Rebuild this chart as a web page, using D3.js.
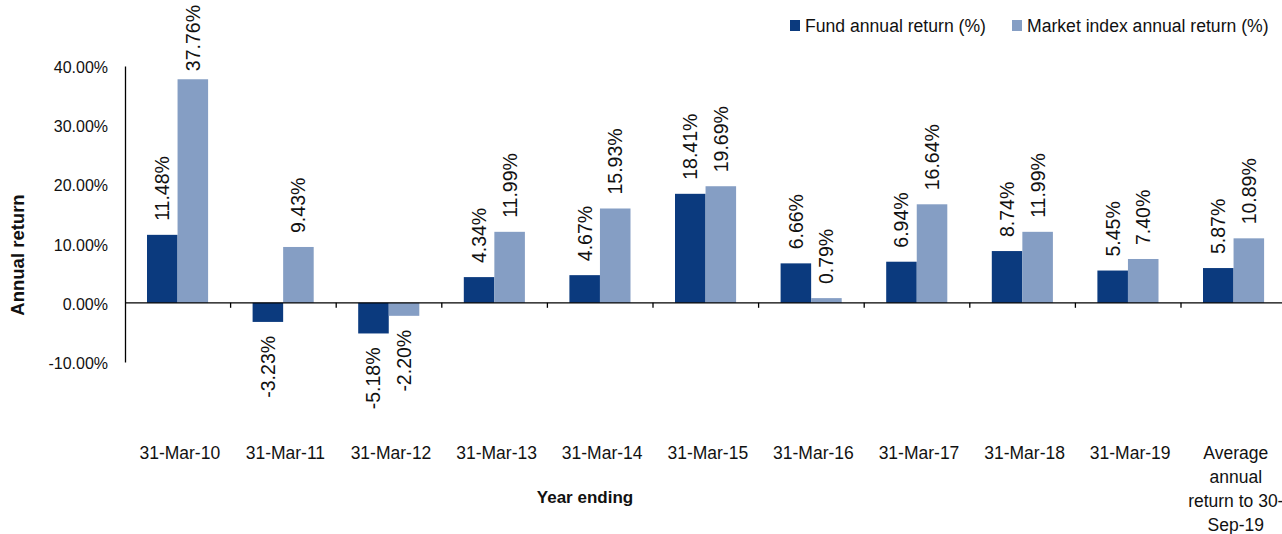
<!DOCTYPE html>
<html>
<head>
<meta charset="utf-8">
<script src="https://cdn.jsdelivr.net/npm/d3@7"></script>
<style>
  body { margin: 0; background: #fff; }
  svg text { fill: #111; }
</style>
</head>
<body>
<div id="chart"></div>
<script>
const categories = ['31-Mar-10', '31-Mar-11', '31-Mar-12', '31-Mar-13', '31-Mar-14', '31-Mar-15',
  '31-Mar-16', '31-Mar-17', '31-Mar-18', '31-Mar-19', 'Average annual return to 30-Sep-19'];
const fundReturns = [11.48, -3.23, -5.18, 4.34, 4.67, 18.41, 6.66, 6.94, 8.74, 5.45, 5.87];
const indexReturns = [37.76, 9.43, -2.20, 11.99, 15.93, 19.69, 0.79, 16.64, 11.99, 7.40, 10.89];
const seriesNames = ['Fund annual return (%)', 'Market index annual return (%)'];
const yTicks = [-10, 0, 10, 20, 30, 40];

const colors = ['#0b3a7e', '#859ec4'];
const W = 1282, H = 534;
const left = 125, bandW = 105.6;
const font = '"Liberation Sans", Arial, sans-serif';

const svg = d3.select('#chart').append('svg').attr('width', W).attr('height', H);

const x = d3.scaleBand().domain(categories).range([left, left + categories.length * bandW]);
const y = d3.scaleLinear().domain([-10, 40]).range([362, 66]);
const inner = d3.scaleBand().domain([0, 1]).range([22, bandW - 22.5]);

const data = categories.map((c, i) => ({ cat: c, vals: [fundReturns[i], indexReturns[i]] }));

// bars
const groups = svg.selectAll('.grp').data(data).enter().append('g')
  .attr('class', 'grp')
  .attr('transform', d => 'translate(' + x(d.cat) + ',0)');

groups.selectAll('rect').data(d => d.vals).enter().append('rect')
  .attr('x', (v, j) => inner(j))
  .attr('width', inner.bandwidth())
  .attr('y', v => y(Math.max(0, v)))
  .attr('height', v => Math.abs(y(v) - y(0)))
  .attr('fill', (v, j) => colors[j]);

// value labels, rotated; kept inside the top edge
const gap = 14;
groups.selectAll('text').data(d => d.vals).enter().append('text')
  .attr('text-anchor', v => v >= 0 ? 'start' : 'end')
  .style('font-family', font)
  .style('font-size', '19.5px')
  .text(v => v.toFixed(2) + '%')
  .attr('transform', function (v, j) {
    const cx = inner(j) + inner.bandwidth() / 2 + 7;
    let cy = v >= 0 ? y(v) - gap : y(v) + gap;
    if (v >= 0) {
      const len = this.getComputedTextLength();
      if (cy - len < 5) cy = 5 + len;
    }
    return 'translate(' + cx + ',' + cy + ') rotate(-90)';
  });

// y axis
const yAxis = svg.append('g')
  .attr('transform', 'translate(' + left + ',0)')
  .call(d3.axisLeft(y).tickValues(yTicks).tickSize(0).tickPadding(17)
    .tickFormat(d => d.toFixed(2) + '%'));
yAxis.select('.domain').attr('stroke', '#000').attr('stroke-width', 1.3);
yAxis.selectAll('text').style('font-family', font).style('font-size', '16px').attr('dy', '0.4em');

// zero line with category ticks
const xAxis = svg.append('g')
  .attr('transform', 'translate(0,' + y(0) + ')');
xAxis.append('line')
  .attr('x1', left).attr('x2', W)
  .attr('stroke', '#000').attr('stroke-width', 1.3);
xAxis.selectAll('.tk').data(categories.slice(1)).enter().append('line')
  .attr('x1', d => x(d)).attr('x2', d => x(d))
  .attr('y1', 0).attr('y2', 5)
  .attr('stroke', '#000').attr('stroke-width', 1.3);

// category labels
const catLines = c => c.startsWith('Average') ? ['Average', 'annual', 'return to 30-', 'Sep-19'] : [c];
svg.selectAll('.cat').data(categories).enter().append('text')
  .attr('class', 'cat')
  .attr('text-anchor', 'middle')
  .style('font-family', font)
  .style('font-size', '17.5px')
  .each(function (c) {
    const t = d3.select(this);
    catLines(c).forEach((line, k) => {
      t.append('tspan')
        .attr('x', x(c) + x.bandwidth() / 2 + 2)
        .attr('y', 459 + k * 24)
        .text(line);
    });
  });

// axis titles
svg.append('text')
  .attr('x', 585).attr('y', 503)
  .attr('text-anchor', 'middle')
  .style('font-family', font).style('font-weight', 'bold').style('font-size', '17px')
  .text('Year ending');

svg.append('text')
  .attr('transform', 'translate(24,255) rotate(-90)')
  .attr('text-anchor', 'middle')
  .style('font-family', font).style('font-weight', 'bold').style('font-size', '18.5px')
  .text('Annual return');

// legend
const legendX = [790, 1012];
const legend = svg.selectAll('.leg').data(seriesNames).enter().append('g')
  .attr('class', 'leg')
  .attr('transform', (d, i) => 'translate(' + legendX[i] + ',20)');
legend.append('rect').attr('width', 10).attr('height', 11)
  .attr('fill', (d, i) => colors[i]);
legend.append('text').attr('x', 15).attr('y', 12)
  .style('font-family', font).style('font-size', '17.6px')
  .text(d => d);
</script>
</body>
</html>
